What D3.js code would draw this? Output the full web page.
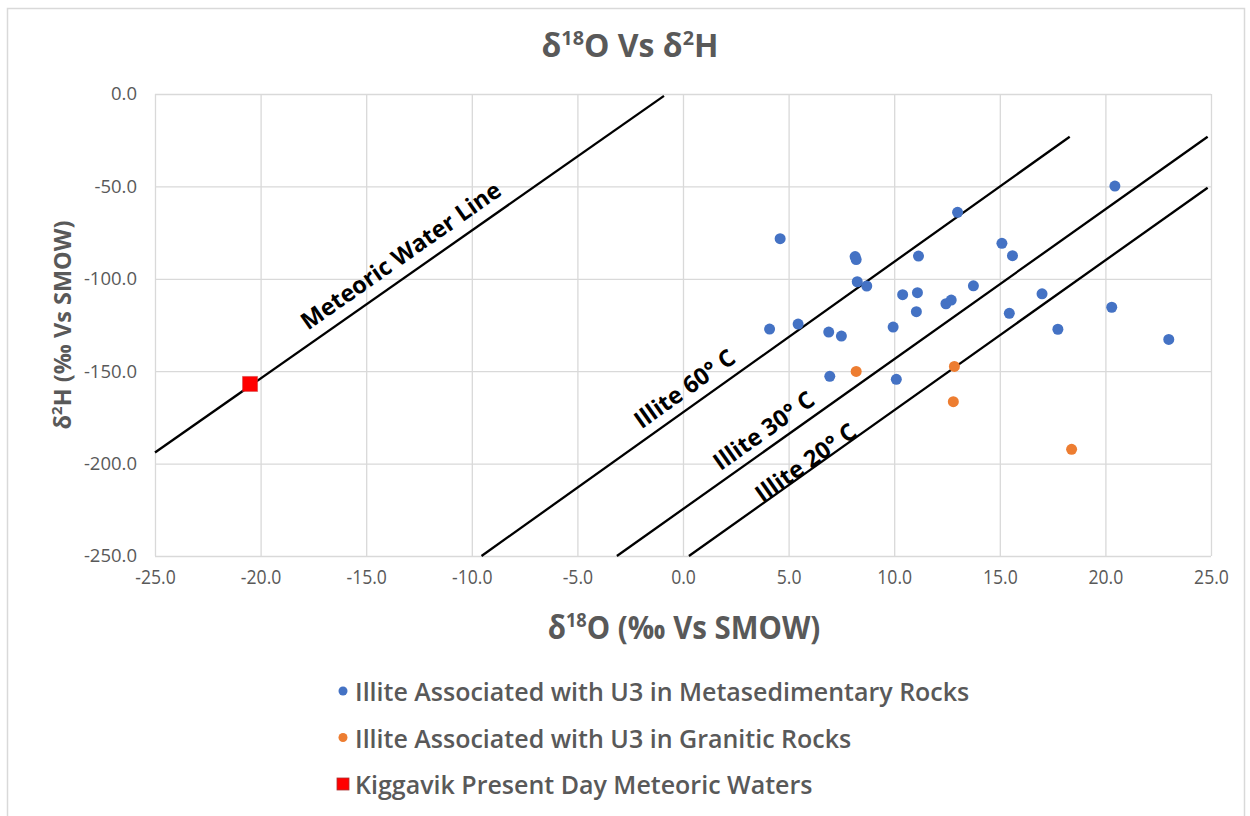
<!DOCTYPE html>
<html>
<head>
<meta charset="utf-8">
<script src="https://cdn.jsdelivr.net/npm/d3@7"></script>
<style>
  html, body { margin: 0; padding: 0; background: #fff; }
  svg { display: block; }
  .sans { font-family: "Open Sans", "Noto Sans", sans-serif; }
</style>
</head>
<body>
<svg id="chart" width="1250" height="816"></svg>
<script>
// δ18O / δ2H values (‰ vs SMOW)
const metasedO = [4.6, 8.15, 8.2, 8.25, 8.7, 11.15, 13.0, 10.4, 11.1, 11.05, 12.45, 12.7, 13.75, 4.1,
                  5.45, 6.9, 7.5, 9.95, 6.95, 10.1, 15.1, 15.6, 15.45, 17.0, 17.75, 20.45, 20.3, 23.0];
const metasedH = [-78.3, -88.0, -89.6, -101.6, -103.9, -87.7, -64.0, -108.6, -107.5, -117.8, -113.5, -111.5, -103.8, -127.2,
                  -124.5, -128.8, -131.0, -126.1, -152.8, -154.4, -80.8, -87.5, -118.7, -108.1, -127.3, -49.8, -115.4, -132.8];
const graniticO = [8.2, 12.85, 12.8, 18.4];
const graniticH = [-150.1, -147.4, -166.5, -192.3];
const meteoricO = [-20.5];
const meteoricH = [-156.9];

// Reference lines: end points [δ18O, δ2H]
const lineNames = ["Meteoric Water Line", "Illite 60° C", "Illite 30° C", "Illite 20° C"];
const lineStart = [[-25, -194], [-9.54, -250], [-3.13, -250], [0.28, -250]];
const lineEnd   = [[-0.9, -1], [18.31, -23.1], [24.84, -23.1], [24.84, -50.7]];
// Label anchors along each line [δ18O, δ2H]
const labelAnchor = [[-13.38, -87.1], [0.05, -159.1], [3.80, -181.8], [5.79, -199.1]];

const xTicks = [-25, -20, -15, -10, -5, 0, 5, 10, 15, 20, 25];
const yTicks = [0, -50, -100, -150, -200, -250];

const legendNames = ["Illite Associated with U3 in Metasedimentary Rocks",
                     "Illite Associated with U3 in Granitic Rocks",
                     "Kiggavik Present Day Meteoric Waters"];
const legendColors = ["#4472C4", "#ED7D31", "#FF0000"];

const svg = d3.select("#chart");
const plot = { left: 155, right: 1211, top: 94, bottom: 556 };

const x = d3.scaleLinear().domain([-25, 25]).range([plot.left, plot.right]);
const y = d3.scaleLinear().domain([-250, 0]).range([plot.bottom, plot.top]);
const fmt = v => d3.format(".1f")(v).replace("−", "-");
const GREY = "#595959";

// chart frame
svg.append("rect").attr("x", 7.5).attr("y", 8.5).attr("width", 1237).attr("height", 830)
  .attr("fill", "#fff").attr("stroke", "#d9d9d9").attr("stroke-width", 1.5);

// bold text with superscripts, drawn slightly condensed
function supText(parent, tx, ty, sx, size, parts) {
  const g = parent.append("g").attr("transform", `translate(${tx},${ty}) scale(${sx},1)`);
  const t = g.append("text").attr("class", "sans").attr("text-anchor", "middle")
    .attr("font-size", size).attr("font-weight", "bold").attr("fill", GREY);
  const up = Math.round(size * 0.36);
  let raised = false;
  parts.forEach(([s, sup]) => {
    const ts = t.append("tspan").text(s);
    if (sup) {
      ts.attr("font-size", size * 0.62).attr("dy", raised ? 0 : -up);
      raised = true;
    } else {
      ts.attr("dy", raised ? up : 0);
      raised = false;
    }
  });
  return g;
}

// title
supText(svg, 630, 57, 0.97, 33, [["δ"], ["18", 1], ["O Vs δ"], ["2", 1], ["H"]]);

// gridlines + axes
const gx = svg.append("g").attr("transform", `translate(0,${plot.bottom})`)
  .call(d3.axisBottom(x).tickValues(xTicks).tickSize(-(plot.bottom - plot.top)).tickFormat(fmt).tickPadding(19));
const gy = svg.append("g").attr("transform", `translate(${plot.left},0)`)
  .call(d3.axisLeft(y).tickValues(yTicks).tickSize(-(plot.right - plot.left)).tickFormat(fmt).tickPadding(18));
[gx, gy].forEach(g => {
  g.select(".domain").remove();
  g.selectAll(".tick line").attr("stroke", "#d9d9d9").attr("stroke-width", 1.3);
  g.selectAll(".tick text").attr("fill", GREY).attr("class", "sans");
});
gx.selectAll(".tick text").attr("font-size", 20).attr("dy", "0.45em").attr("transform", "scale(0.88,1)");
gy.selectAll(".tick text").attr("font-size", 18.5);

// axis titles
supText(svg, 684, 639, 0.92, 32, [["δ"], ["18", 1], ["O (‰ Vs SMOW)"]]);

const yt = svg.append("text").attr("class", "sans")
  .attr("transform", "translate(71,325) rotate(-90)").attr("text-anchor", "middle")
  .attr("font-size", 23.5).attr("font-weight", "bold").attr("fill", GREY);
yt.append("tspan").text("δ");
yt.append("tspan").text("2").attr("font-size", 15).attr("dy", -9);
yt.append("tspan").text("H (‰ Vs SMOW)").attr("dy", 9);

// reference lines
const refLines = svg.append("g");
lineNames.forEach((name, i) => {
  refLines.append("line")
    .attr("x1", x(lineStart[i][0])).attr("y1", y(lineStart[i][1]))
    .attr("x2", x(lineEnd[i][0])).attr("y2", y(lineEnd[i][1]))
    .attr("stroke", "#000").attr("stroke-width", 2.3);
  const ang = Math.atan2(y(lineEnd[i][1]) - y(lineStart[i][1]), x(lineEnd[i][0]) - x(lineStart[i][0])) * 180 / Math.PI;
  refLines.append("text").attr("class", "sans")
    .attr("transform", `translate(${x(labelAnchor[i][0])},${y(labelAnchor[i][1])}) rotate(${ang})`)
    .attr("text-anchor", "middle").attr("dominant-baseline", "central")
    .attr("font-size", 23.5).attr("font-weight", "bold").attr("fill", "#000")
    .text(name);
});

// data points
const pts = svg.append("g");
pts.selectAll("circle.meta").data(metasedO.map((o, i) => [o, metasedH[i]])).join("circle")
  .attr("class", "meta").attr("cx", d => x(d[0])).attr("cy", d => y(d[1])).attr("r", 5.5)
  .attr("fill", legendColors[0]);
pts.selectAll("circle.gran").data(graniticO.map((o, i) => [o, graniticH[i]])).join("circle")
  .attr("class", "gran").attr("cx", d => x(d[0])).attr("cy", d => y(d[1])).attr("r", 5.5)
  .attr("fill", legendColors[1]);
pts.selectAll("rect.mw").data(meteoricO.map((o, i) => [o, meteoricH[i]])).join("rect")
  .attr("class", "mw").attr("x", d => x(d[0]) - 7.5).attr("y", d => y(d[1]) - 7.5)
  .attr("width", 15).attr("height", 15)
  .attr("fill", legendColors[2]).attr("stroke", "#d04040").attr("stroke-width", 1).attr("stroke-opacity", 0.5);

// legend
const leg = svg.append("g");
legendNames.forEach((name, i) => {
  const cy = 691 + i * 46.5;
  if (i < 2) {
    leg.append("circle").attr("cx", 343).attr("cy", cy).attr("r", 4.5).attr("fill", legendColors[i]);
  } else {
    leg.append("rect").attr("x", 337).attr("y", cy - 6).attr("width", 12).attr("height", 12)
      .attr("fill", legendColors[i]).attr("stroke", "#a33").attr("stroke-width", 0.8);
  }
  leg.append("text").attr("class", "sans").attr("x", 355).attr("y", cy)
    .attr("dominant-baseline", "central").attr("font-size", 25).attr("font-weight", 600)
    .attr("fill", GREY).text(name);
});
</script>
</body>
</html>
